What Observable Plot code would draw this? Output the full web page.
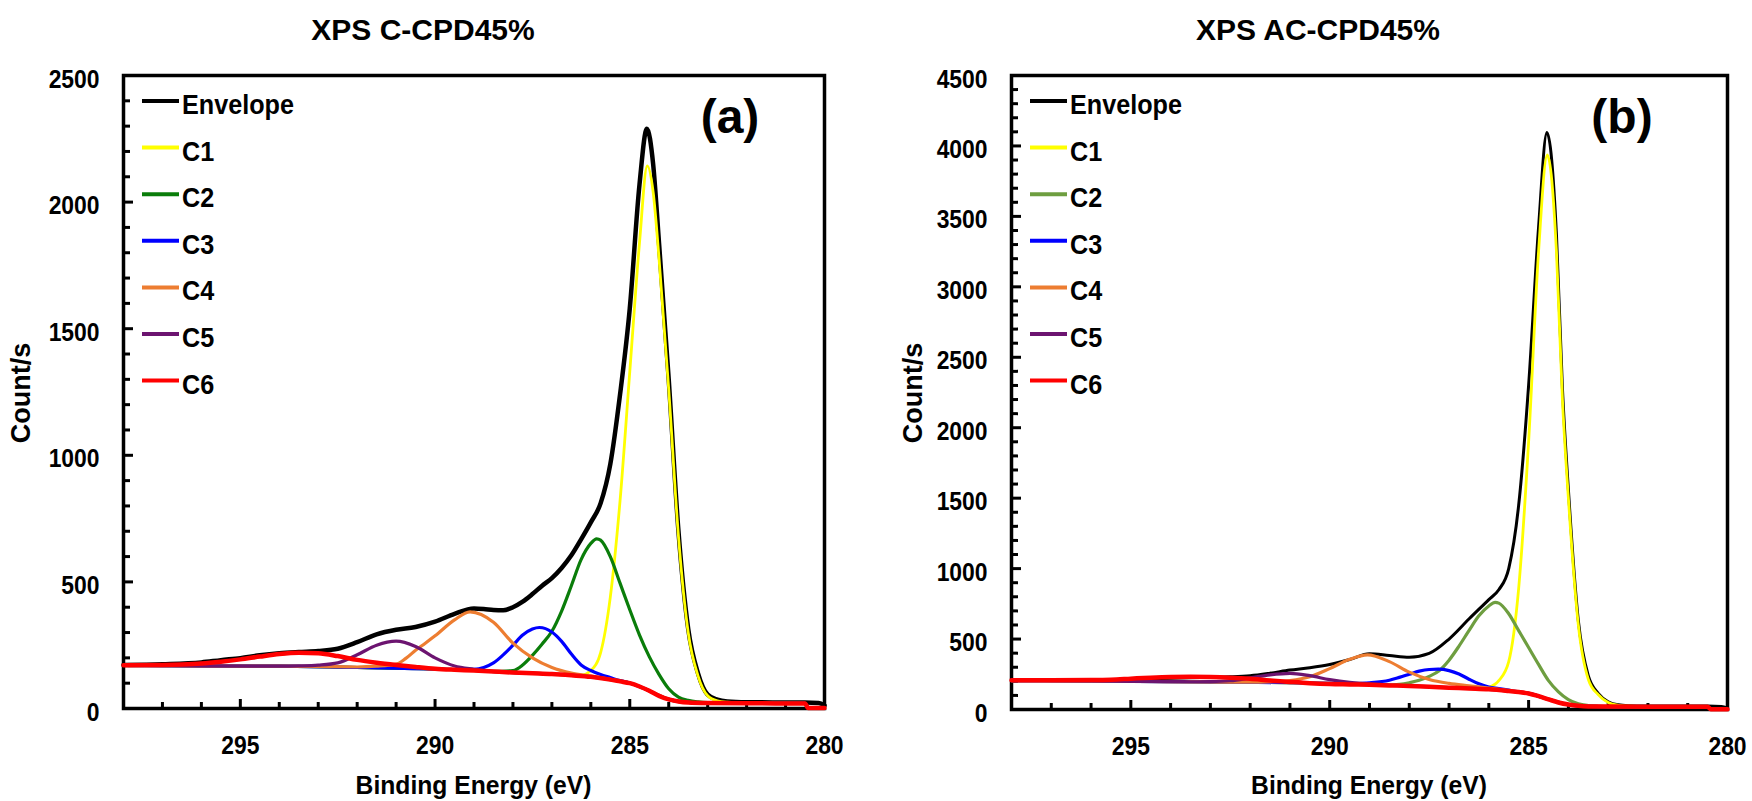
<!DOCTYPE html>
<html><head><meta charset="utf-8">
<script src="https://cdn.jsdelivr.net/npm/d3@7"></script>
<script src="https://cdn.jsdelivr.net/npm/@observablehq/plot@0.6"></script>
<style>
html,body{margin:0;padding:0;background:#fff;}
#wrap{display:flex;width:1752px;height:801px;overflow:hidden;}
</style></head><body><div id="wrap"></div>
<script>
// ---------- shared labels ----------
const seriesNames = ["Envelope", "C1", "C2", "C3", "C4", "C5", "C6"];
const xTickLabels = [295, 290, 285, 280];
const yTicksA = [0, 500, 1000, 1500, 2000, 2500];
const yTicksB = [0, 500, 1000, 1500, 2000, 2500, 3000, 3500, 4000, 4500];
const titleA = "XPS C-CPD45%";
const titleB = "XPS AC-CPD45%";

// ---------- panel (a) C-CPD45% : [binding energy eV, count/s] ----------
const aEnvelope = [[298,172],[297,175],[296,182],[295.5,191],[295,199],[294.5,210],[294,218],[293.5,223],[293,227],[292.5,236],[292,262],[291.5,293],[291,311],[290.5,322],[290,343],[289.5,374],[289,395],[288.75,393],[288.5,389],[288.25,388],[288,400],[287.75,422],[287.5,452],[287.25,485],[287,515],[286.75,555],[286.5,605],[286.25,668],[286,735],[285.75,810],[285.5,965],[285.25,1240],[285,1580],[284.75,2070],[284.56,2290],[284.4,2150],[284.25,1840],[284,1300],[283.75,700],[283.5,315],[283.25,140],[283,55],[282.75,35],[282.5,28],[282,25],[281,24],[280.5,24],[280.15,22],[280,12]];
const aC1 = [[298,170],[296,168],[294,167],[292,162],[290,156],[289,150],[288,142],[287,136],[286.5,132],[286.25,132],[286,150],[285.75,220],[285.5,440],[285.25,820],[285,1330],[284.75,1840],[284.55,2143],[284.4,2040],[284.25,1780],[284,1260],[283.75,680],[283.5,300],[283.25,130],[283,50],[282.75,30],[282.5,25],[282,22],[281,21],[280.5,20]];
const aC2 = [[298,170],[296,168],[294,167],[292,162],[290,156],[289,150],[288.5,147],[288,150],[287.75,172],[287.5,210],[287.25,255],[287,305],[286.75,385],[286.5,485],[286.25,588],[286,652],[285.85,670],[285.75,665],[285.5,600],[285.25,495],[285,390],[284.75,290],[284.5,205],[284.25,135],[284,78],[283.75,45],[283.5,32],[283.25,26],[283,23],[282.5,22],[282,21],[281,20],[280.5,20]];
const aC3 = [[298,170],[296,168],[294,167],[292,162],[291,159],[290,156],[289.5,154],[289,155],[288.75,162],[288.5,180],[288.25,212],[288,250],[287.75,290],[287.5,314],[287.32,320],[287,302],[286.75,265],[286.5,215],[286.25,172],[286,150],[285.75,134],[285.5,122],[285.25,110],[285,101],[284.75,87],[284.5,70],[284.25,50],[284,36],[283.75,28],[283.5,24],[283,22],[282,21],[281,20],[280.5,20]];
const aC4 = [[298,170],[296,168],[294,167],[293,166],[292,164],[291.5,167],[291,175],[290.75,198],[290.5,230],[290.25,258],[290,287],[289.5,350],[289.1,382],[288.5,341],[288,258],[287.5,200],[287,162],[286.5,140],[286,128],[285.5,115],[285,101],[284.5,70],[284,36],[283.5,24],[283,22],[282,21],[281,20],[280.5,20]];
const aC5 = [[298,170],[296,168],[294,167],[293.5,168],[293,171],[292.5,180],[292,212],[291.5,250],[291,266],[290.5,245],[290,200],[289.5,168],[289,155],[288.5,146],[288,142],[287,136],[286,125],[285.5,114],[285,101],[284.5,70],[284,36],[283.5,24],[283,22],[282,21],[281,20],[280.5,20]];
const aC6 = [[298,171],[297,172],[296.5,174],[296,178],[295.5,185],[295,194],[294.5,205],[294,215],[293.5,220],[293,218],[292.5,207],[292,192],[291.5,181],[291,172],[290.5,164],[290,157],[289.5,153],[289,150],[288.5,146],[288,142],[287.5,139],[287,136],[286.5,131],[286,125],[285.5,114],[285.25,107],[285,100],[284.75,87],[284.5,70],[284.25,50],[284,36],[283.75,28],[283.5,24],[283,22],[282,21],[281,20],[280.5,20],[280.42,2],[280,2]];

// ---------- panel (b) AC-CPD45% ----------
const bEnvelope = [[298,205],[297,206],[296,208],[295.5,210],[295,214],[294.5,218],[294,221],[293.5,225],[293,228],[292.5,232],[292,240],[291.5,258],[291,280],[290.5,297],[290,320],[289.5,355],[289,395],[288.5,383],[288,371],[287.5,398],[287,500],[286.5,642],[286,780],[285.75,850],[285.5,1000],[285.25,1450],[285,2300],[284.75,3420],[284.54,4095],[284.3,3370],[284.15,2280],[284,1560],[283.75,630],[283.5,240],[283.25,115],[283,55],[282.75,33],[282.5,27],[282,25],[281,24],[280.5,24],[280.15,22],[280,12]];
const bC1 = [[298,205],[296,203],[294,198],[292,193],[290,185],[289,176],[288,167],[287,155],[286.5,149],[286.25,146],[286,158],[285.75,205],[285.5,340],[285.25,860],[285,1900],[284.75,3250],[284.53,3936],[284.3,3250],[284.15,2200],[284,1500],[283.75,600],[283.5,215],[283.25,105],[283,50],[282.75,30],[282.5,24],[282,22],[281,21],[280.5,21]];
const bC2 = [[298,205],[296,203],[294,198],[292,193],[290,185],[289,176],[288.5,173],[288.25,178],[288,190],[287.75,207],[287.5,235],[287.25,275],[287,350],[286.75,450],[286.5,560],[286.25,665],[286,735],[285.84,760],[285.75,755],[285.5,680],[285.25,560],[285,440],[284.75,320],[284.5,205],[284.25,125],[284,70],[283.75,40],[283.5,28],[283.25,23],[283,21],[282,20],[281,20],[280.5,20]];
const bC3 = [[298,205],[296,203],[294,198],[292,193],[291,190],[290,186],[289.5,184],[289,190],[288.5,208],[288.25,228],[288,250],[287.75,272],[287.5,284],[287.27,286],[287,276],[286.75,252],[286.5,215],[286.25,182],[286,160],[285.75,149],[285.5,137],[285.25,125],[285,114],[284.75,95],[284.5,72],[284.25,50],[284,35],[283.75,26],[283.5,22],[283,21],[282,20],[281,20],[280.5,20]];
const bC4 = [[298,205],[296,203],[294,198],[292.5,195],[292,194],[291.5,196],[291,205],[290.5,232],[290,290],[289.5,356],[289.05,388],[288.5,340],[288,265],[287.5,213],[287,185],[286.5,168],[286,152],[285.5,134],[285,114],[284.5,72],[284,35],[283.5,22],[283,21],[282,20],[281,20],[280.5,20]];
const bC5 = [[298,205],[296,203],[295,200],[294,198],[293.5,197],[293,198],[292.5,204],[292,224],[291.5,246],[291,257],[290.5,240],[290,212],[289.5,193],[289,183],[288.5,173],[288,167],[287,155],[286,143],[285.5,131],[285,114],[284.5,72],[284,35],[283.5,22],[283,21],[282,20],[281,20],[280.5,20]];
const bC6 = [[298,207],[297,207],[296,209],[295.5,212],[295,219],[294.5,226],[294,231],[293.5,233],[293,231],[292.5,226],[292,218],[291.5,206],[291,196],[290.5,187],[290,181],[289.5,178],[289,175],[288.5,171],[288,167],[287.5,161],[287,155],[286.5,149],[286,143],[285.5,131],[285.25,124],[285,114],[284.75,95],[284.5,72],[284.25,50],[284,35],[283.75,26],[283.5,22],[283,21],[282,20],[281,20],[280.5,20],[280.42,2],[280,2]];

const FONT = "'Liberation Sans', Arial, Helvetica, sans-serif";
const W = 876, H = 801;

// horizontally condense a text element around its anchor point
function condense(el, sx) {
  const tr = el.getAttribute("transform") || "";
  const x = el.getAttribute("x") || 0, y = el.getAttribute("y") || 0;
  el.removeAttribute("x"); el.removeAttribute("y");
  el.setAttribute("transform", `${tr} translate(${x},${y}) scale(${sx},1)`);
}

function panel(cfg) {
  const fh = H - cfg.mt - cfg.mb, fw = W - cfg.ml - cfg.mr;
  const xMinor = d3.range(281, 298).filter(d => d % 5 !== 0);
  const xMajor = xTickLabels.filter(d => d > 280 && d < 298);
  const yMajor = cfg.yTicks;
  const yMinor = d3.range(100, cfg.yTicks[cfg.yTicks.length - 1], 100).filter(d => d % 500 !== 0);
  const svg = Plot.plot({
    width: W, height: H,
    marginLeft: cfg.ml, marginRight: cfg.mr, marginTop: cfg.mt, marginBottom: cfg.mb,
    x: {domain: [298, 280], axis: null},
    y: {domain: [0, yMajor[yMajor.length - 1]], axis: null},
    style: {fontFamily: FONT, background: "white", overflow: "visible"},
    marks: [
      Plot.tickX(xMinor, {x: d => d, insetTop: fh - 6, stroke: "black", strokeWidth: 3}),
      Plot.tickX(xMajor, {x: d => d, insetTop: fh - 9, stroke: "black", strokeWidth: 3}),
      Plot.tickY(yMinor, {y: d => d, insetRight: fw - 7, stroke: "black", strokeWidth: 3}),
      Plot.tickY(yMajor, {y: d => d, insetRight: fw - 10, stroke: "black", strokeWidth: 3}),
      Plot.frame({stroke: "black", strokeWidth: 3.5}),
      ...cfg.series.map((pts, i) => Plot.line(pts, {
        x: d => d[0], y: d => d[1], stroke: cfg.colors[i], strokeWidth: cfg.widths[i], curve: "monotone-x"
      })),
      Plot.text(xTickLabels, {x: d => d, frameAnchor: "bottom", dy: 45, lineAnchor: "bottom",
        text: d => String(d), fontSize: 26, fontWeight: "bold", fontFamily: FONT, fill: "black"}),
      Plot.text(yMajor, {y: d => d, frameAnchor: "left", dx: -24, dy: 12, lineAnchor: "bottom", textAnchor: "end",
        text: d => String(d), fontSize: 26, fontWeight: "bold", fontFamily: FONT, fill: "black"})
    ]
  });
  const s = d3.select(svg);
  s.selectAll('g[aria-label="text"] text').each(function () { condense(this, 0.88); });
  const t = (x, y, str, size, anchor = "middle", sx = 1) => s.append("text")
    .attr("transform", `translate(${x},${y}) scale(${sx},1)`).attr("text-anchor", anchor)
    .attr("font-family", FONT).attr("font-weight", "bold").attr("font-size", size)
    .attr("fill", "black").text(str);
  t(cfg.titleX, 40, cfg.title, 30);
  t(cfg.tagX, 133, cfg.tag, 48);
  t(cfg.ml + fw / 2, 794, "Binding Energy (eV)", 26, "middle", 0.95);
  s.append("text").attr("transform", `translate(${cfg.ylabX},393) rotate(-90)`)
    .attr("text-anchor", "middle").attr("font-family", FONT).attr("font-weight", "bold")
    .attr("font-size", 27).attr("fill", "black").text("Count/s");
  // legend
  const lx = cfg.ml + 19;
  seriesNames.forEach((name, i) => {
    const y = 101 + i * 46.6;
    s.append("line").attr("x1", lx).attr("x2", lx + 37).attr("y1", y).attr("y2", y)
      .attr("stroke", cfg.colors[i]).attr("stroke-width", 4);
    t(lx + 40, y + 13, name, 28, "start", 0.9);
  });
  return svg;
}

const wrap = document.getElementById("wrap");
wrap.appendChild(panel({
  ml: 123, mr: 52, mt: 75, mb: 93,
  yTicks: yTicksA,
  series: [aEnvelope, aC1, aC2, aC3, aC4, aC5, aC6],
  colors: ["#000000", "#FFFF00", "#0A7D0A", "#0000FF", "#ED7D31", "#6C1470", "#FF0000"],
  widths: [4.5, 2.8, 3.2, 3.2, 3.2, 3.2, 4.5],
  title: titleA, titleX: 423, tag: "(a)", tagX: 730, ylabX: 30
}));
wrap.appendChild(panel({
  ml: 135, mr: 25, mt: 75, mb: 92,
  yTicks: yTicksB,
  series: [bEnvelope, bC1, bC2, bC3, bC4, bC5, bC6],
  colors: ["#000000", "#FFFF00", "#6E9E40", "#0000FF", "#ED7D31", "#6C1470", "#FF0000"],
  widths: [3, 2.8, 3.2, 3.2, 3.2, 3.2, 4.5],
  title: titleB, titleX: 442, tag: "(b)", tagX: 746, ylabX: 46
}));
</script></body></html>
